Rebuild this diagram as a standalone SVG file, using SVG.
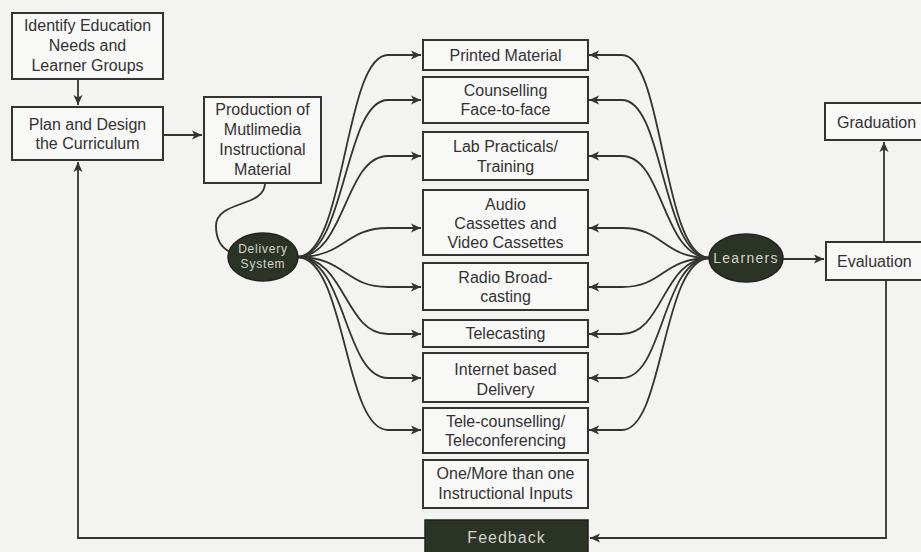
<svg xmlns="http://www.w3.org/2000/svg" width="921" height="552" viewBox="0 0 921 552">
<style>
  .box { fill: #f8f8f6; stroke: #333; stroke-width: 2; }
  .dark { fill: #2b3327; stroke: #222; stroke-width: 1.5; }
  .t { font-family: "Liberation Sans", Arial, sans-serif; font-size: 16px; fill: #333; text-anchor: middle; }
  .ts { font-family: "Liberation Sans", Arial, sans-serif; font-size: 16px; fill: #333; text-anchor: start; }
  .lt { font-family: "Liberation Sans", Arial, sans-serif; fill: #d2d4ca; text-anchor: middle; }
  .c { fill: none; stroke: #333; stroke-width: 1.8; }
</style>
<defs>
  <marker id="arr" markerUnits="userSpaceOnUse" markerWidth="11" markerHeight="10" refX="10" refY="5" orient="auto">
    <path d="M0,0.5 L10,5 L0,9.5 L2.5,5 z" fill="#333"/>
  </marker>
</defs>
<rect width="921" height="552" fill="#f3f3f1"/>

<g id="connectors">
  <path class="c" d="M78,79 L78,105" marker-end="url(#arr)"/>
  <path class="c" d="M163,135 L202,135" marker-end="url(#arr)"/>
  <path class="c" d="M265,183 C265,208 216,200 216,226 C216,240 222,248 230,252"/>
  <!-- Delivery to boxes -->
  <path class="c" d="M297,257 C346,257 344,55 388,55 L421,55" marker-end="url(#arr)"/>
  <path class="c" d="M297,257 C346,257 344,100 388,100 L421,100" marker-end="url(#arr)"/>
  <path class="c" d="M297,257 C346,257 344,156 388,156 L421,156" marker-end="url(#arr)"/>
  <path class="c" d="M297,257 C346,257 344,228 388,228 L421,228" marker-end="url(#arr)"/>
  <path class="c" d="M297,257 C346,257 344,287 388,287 L421,287" marker-end="url(#arr)"/>
  <path class="c" d="M297,257 C346,257 344,334 388,334 L421,334" marker-end="url(#arr)"/>
  <path class="c" d="M297,257 C346,257 344,378 388,378 L421,378" marker-end="url(#arr)"/>
  <path class="c" d="M297,257 C346,257 344,430 388,430 L421,430" marker-end="url(#arr)"/>
  <!-- Learners to boxes -->
  <path class="c" d="M710,258 C662,258 664,55 622,55 L589,55" marker-end="url(#arr)"/>
  <path class="c" d="M710,258 C662,258 664,100 622,100 L589,100" marker-end="url(#arr)"/>
  <path class="c" d="M710,258 C662,258 664,156 622,156 L589,156" marker-end="url(#arr)"/>
  <path class="c" d="M710,258 C662,258 664,228 622,228 L589,228" marker-end="url(#arr)"/>
  <path class="c" d="M710,258 C662,258 664,287 622,287 L589,287" marker-end="url(#arr)"/>
  <path class="c" d="M710,258 C662,258 664,334 622,334 L589,334" marker-end="url(#arr)"/>
  <path class="c" d="M710,258 C662,258 664,378 622,378 L589,378" marker-end="url(#arr)"/>
  <path class="c" d="M710,258 C662,258 664,430 622,430 L589,430" marker-end="url(#arr)"/>
  <!-- Learners to Evaluation, Evaluation to Graduation -->
  <path class="c" d="M782,259 L824,259" marker-end="url(#arr)"/>
  <path class="c" d="M884,242 L884,142" marker-end="url(#arr)"/>
  <!-- feedback loop -->
  <path class="c" d="M886,280 L886,538 L590,538" marker-end="url(#arr)"/>
  <path class="c" d="M425,538 L78,538 L78,162" marker-end="url(#arr)"/>
</g>

<g id="identify">
  <rect class="box" x="12" y="13" width="151" height="66"/>
  <text class="t" x="87.5" y="31">Identify Education</text>
  <text class="t" x="87.5" y="51">Needs and</text>
  <text class="t" x="87.5" y="71">Learner Groups</text>
</g>
<g id="plan">
  <rect class="box" x="12" y="107" width="151" height="53"/>
  <text class="t" x="87.5" y="130">Plan and Design</text>
  <text class="t" x="87.5" y="149">the Curriculum</text>
</g>
<g id="production">
  <rect class="box" x="204" y="97" width="117" height="86"/>
  <text class="t" x="262.5" y="115">Production of</text>
  <text class="t" x="262.5" y="135">Mutlimedia</text>
  <text class="t" x="262.5" y="155">Instructional</text>
  <text class="t" x="262.5" y="175">Material</text>
</g>
<g id="delivery">
  <ellipse class="dark" cx="263" cy="257" rx="35" ry="24"/>
  <text class="lt" x="263" y="253" font-size="12" letter-spacing="0.8">Delivery</text>
  <text class="lt" x="263" y="268" font-size="12" letter-spacing="0.8">System</text>
</g>
<g id="printed">
  <rect class="box" x="423" y="40" width="165" height="30"/>
  <text class="t" x="505.5" y="61">Printed Material</text>
</g>
<g id="counselling">
  <rect class="box" x="423" y="77" width="165" height="46"/>
  <text class="t" x="505.5" y="96">Counselling</text>
  <text class="t" x="505.5" y="115">Face-to-face</text>
</g>
<g id="lab">
  <rect class="box" x="423" y="132" width="165" height="48"/>
  <text class="t" x="505.5" y="152">Lab Practicals/</text>
  <text class="t" x="505.5" y="172">Training</text>
</g>
<g id="audio">
  <rect class="box" x="423" y="190" width="165" height="65"/>
  <text class="t" x="505.5" y="210">Audio</text>
  <text class="t" x="505.5" y="229">Cassettes and</text>
  <text class="t" x="505.5" y="248">Video Cassettes</text>
</g>
<g id="radio">
  <rect class="box" x="423" y="263" width="165" height="47"/>
  <text class="t" x="505.5" y="283">Radio Broad-</text>
  <text class="t" x="505.5" y="302">casting</text>
</g>
<g id="telecasting">
  <rect class="box" x="423" y="320" width="165" height="27"/>
  <text class="t" x="505.5" y="339">Telecasting</text>
</g>
<g id="internet">
  <rect class="box" x="423" y="353" width="165" height="49"/>
  <text class="t" x="505.5" y="375">Internet based</text>
  <text class="t" x="505.5" y="395">Delivery</text>
</g>
<g id="telecounselling">
  <rect class="box" x="423" y="408" width="165" height="45"/>
  <text class="t" x="505.5" y="427">Tele-counselling/</text>
  <text class="t" x="505.5" y="446">Teleconferencing</text>
</g>
<g id="inputs">
  <rect class="box" x="423" y="460" width="165" height="48"/>
  <text class="t" x="505.5" y="479">One/More than one</text>
  <text class="t" x="505.5" y="499">Instructional Inputs</text>
</g>
<g id="feedback">
  <rect class="dark" x="425" y="520" width="163" height="34"/>
  <text class="lt" x="506.5" y="543" font-size="16" letter-spacing="1">Feedback</text>
</g>
<g id="learners">
  <ellipse class="dark" cx="746" cy="258" rx="37" ry="24"/>
  <text class="lt" x="746" y="263" font-size="14" letter-spacing="1.3">Learners</text>
</g>
<g id="evaluation">
  <rect class="box" x="826" y="242" width="100" height="38"/>
  <text class="ts" x="837" y="267">Evaluation</text>
</g>
<g id="graduation">
  <rect class="box" x="825" y="103" width="100" height="37"/>
  <text class="ts" x="837" y="128">Graduation</text>
</g>
</svg>
